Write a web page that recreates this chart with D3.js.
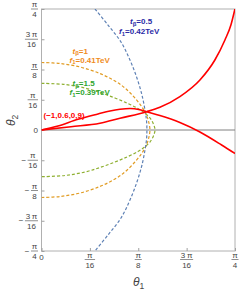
<!DOCTYPE html>
<html>
<head>
<meta charset="utf-8">
<script src="https://cdn.jsdelivr.net/npm/d3@7"></script>
<style>
  html, body { margin: 0; padding: 0; background: #fff; }
  svg { display: block; font-family: "Liberation Sans", Arial, sans-serif; }
</style>
</head>
<body>
<div id="graph"></div>
<script>
      // size of the picture
      var w = 240;
      var h = 292;

      // all angles are stored as theta / pi
      // red solid curves, both start at the origin
      var redFalling = [[0, 0], [0.0213, 0.0083], [0.0471, 0.0221], [0.0730, 0.0331],
                        [0.0885, 0.0393], [0.1014, 0.0428], [0.1143, 0.0444], [0.1272, 0.0417],
                        [0.1358, 0.0378], [0.1530, 0.0300], [0.1788, 0.0155], [0.2047, -0.0041],
                        [0.2327, -0.0310], [0.2499, -0.0486]];
      var redRising = [[0, 0], [0.0381, 0.0068], [0.0755, 0.0138], [0.1014, 0.0242],
                       [0.1358, 0.0378], [0.1530, 0.0470], [0.1788, 0.0690], [0.2047, 0.1033],
                       [0.2240, 0.1446], [0.2370, 0.1860], [0.2447, 0.2169], [0.2499, 0.25]];

      // dashed curves, t_beta = 0.5, 1, 1.5 (traced top to bottom)
      var blueCurve = [[0.0691, 0.25], [0.0859, 0.2169], [0.1027, 0.1818], [0.1143, 0.1446],
                       [0.1233, 0.1074], [0.1298, 0.0723], [0.1337, 0.0413], [0.1356, 0.0207],
                       [0.1362, 0], [0.1356, -0.0207], [0.1337, -0.0413], [0.1298, -0.0723],
                       [0.1233, -0.1074], [0.1143, -0.1446], [0.1027, -0.1818], [0.0859, -0.2169],
                       [0.0691, -0.25]];
      var orangeCurve = [[0, 0.1395], [0.0239, 0.1374], [0.0497, 0.1302], [0.0755, 0.1167],
                         [0.0949, 0.1012], [0.1078, 0.0868], [0.1207, 0.0661], [0.1298, 0.0475],
                         [0.1350, 0.0331], [0.1382, 0.0186], [0.1401, 0], [0.1382, -0.0186],
                         [0.1350, -0.0331], [0.1298, -0.0475], [0.1207, -0.0661], [0.1078, -0.0868],
                         [0.0949, -0.1012], [0.0755, -0.1167], [0.0497, -0.1302], [0.0239, -0.1374],
                         [0, -0.1395]];
      var greenCurve = [[0, 0.0965], [0.0303, 0.0940], [0.0561, 0.0868], [0.0755, 0.0775],
                        [0.0949, 0.0661], [0.1117, 0.0548], [0.1246, 0.0444], [0.1323, 0.0362],
                        [0.1401, 0.0248], [0.1446, 0.0124], [0.1466, 0], [0.1446, -0.0124],
                        [0.1401, -0.0248], [0.1323, -0.0362], [0.1246, -0.0444], [0.1117, -0.0548],
                        [0.0949, -0.0661], [0.0755, -0.0775], [0.0561, -0.0868], [0.0303, -0.0940],
                        [0, -0.0965]];

      // annotation texts
      var tBetaValues = ["0.5", "1", "1.5"];
      var f1Values = ["0.42TeV", "0.41TeV", "0.39TeV"];
      var redLabel = "(\u22121,0.6,0,9)";

      // ticks
      var xTickValues = [0, 0.0625, 0.125, 0.1875, 0.25];
      var xTickLabels = ["0", "\u03c0/16", "\u03c0/8", "3\u2009\u03c0/16", "\u03c0/4"];
      var yTickValues = [-0.25, -0.1875, -0.125, -0.0625, 0, 0.0625, 0.125, 0.1875, 0.25];
      var yTickLabels = ["\u2212\u03c0/4", "\u22123\u2009\u03c0/16", "\u2212\u03c0/8", "\u2212\u03c0/16", "0",
                         "\u03c0/16", "\u03c0/8", "3\u2009\u03c0/16", "\u03c0/4"];

      // plot box (note: "top" is reserved by the window, so use other names)
      var pLeft = 41.5, pRight = 235, pTop = 9, pBottom = 251;

      var xScale = d3.scaleLinear().domain([0, 0.25]).range([pLeft, pRight]);
      var yScale = d3.scaleLinear().domain([-0.25, 0.25]).range([pBottom, pTop]);

      var svg = d3.select("#graph")
                  .append("svg")
                  .attr("width", w)
                  .attr("height", h);

      svg.append("clipPath").attr("id", "plotClip")
         .append("rect")
         .attr("x", pLeft).attr("y", pTop)
         .attr("width", pRight - pLeft).attr("height", pBottom - pTop);

      // frame
      svg.append("rect")
         .attr("x", pLeft).attr("y", pTop)
         .attr("width", pRight - pLeft).attr("height", pBottom - pTop)
         .attr("fill", "none")
         .attr("stroke", "#b0b0b0")
         .attr("stroke-width", 1);

      // theta2 = 0 axis line
      svg.append("line")
         .attr("x1", pLeft).attr("x2", pRight)
         .attr("y1", yScale(0)).attr("y2", yScale(0))
         .attr("stroke", "#808080")
         .attr("stroke-width", 1);

      // tick marks only, labels are drawn by hand as fractions
      svg.append("g")
         .attr("transform", "translate(0," + pBottom + ")")
         .call(d3.axisBottom(xScale).tickValues(xTickValues).tickSize(-3).tickFormat(""));
      svg.append("g")
         .attr("transform", "translate(" + pLeft + ",0)")
         .call(d3.axisLeft(yScale).tickValues(yTickValues).tickSize(-3).tickFormat(""));
      svg.selectAll(".domain").remove();
      svg.selectAll(".tick line").attr("stroke", "#a0a0a0");

      var labelColor = "#444";
      var fs = 8;

      // draws "a/b" stacked like a fraction, with optional leading minus
      function fraction(g, label, cx, cy, anchorRight) {
        if (label.indexOf("/") < 0) {
          g.append("text")
           .attr("x", cx).attr("y", cy + 3)
           .attr("text-anchor", anchorRight ? "end" : "middle")
           .attr("font-size", fs).attr("fill", labelColor)
           .text(label);
          return;
        }
        var sign = "";
        if (label[0] === "\u2212") { sign = "\u2212"; label = label.slice(1); }
        var parts = label.split("/");
        var num = g.append("text").attr("font-size", fs).attr("fill", labelColor)
                   .attr("text-anchor", "middle").text(parts[0]);
        var den = g.append("text").attr("font-size", fs).attr("fill", labelColor)
                   .attr("text-anchor", "middle").text(parts[1]);
        var wd = Math.max(num.node().getComputedTextLength(), den.node().getComputedTextLength()) + 1.5;
        var mid = anchorRight ? cx - wd / 2 : cx;
        num.attr("x", mid).attr("y", cy - 1.8);
        den.attr("x", mid).attr("y", cy + 8);
        g.append("line")
         .attr("x1", mid - wd / 2).attr("x2", mid + wd / 2)
         .attr("y1", cy).attr("y2", cy)
         .attr("stroke", labelColor).attr("stroke-width", 0.6);
        if (sign) {
          g.append("text")
           .attr("x", mid - wd / 2 - 1.5).attr("y", cy + 2.5)
           .attr("text-anchor", "end")
           .attr("font-size", fs).attr("fill", labelColor)
           .text(sign);
        }
      }

      var tickText = svg.append("g");
      xTickLabels.forEach(function(lab, i) {
        if (i === 0) {
          tickText.append("text")
                  .attr("x", xScale(xTickValues[i])).attr("y", 259.5)
                  .attr("text-anchor", "middle")
                  .attr("font-size", fs).attr("fill", labelColor)
                  .text(lab);
        } else {
          fraction(tickText, lab, xScale(xTickValues[i]), 259.5, false);
        }
      });
      yTickLabels.forEach(function(lab, i) {
        fraction(tickText, lab, 38, yScale(yTickValues[i]), true);
      });

      // axis titles
      svg.append("text")
         .attr("x", 133).attr("y", 286)
         .attr("font-size", 12).attr("fill", labelColor)
         .call(function(t) {
           t.append("tspan").attr("font-style", "italic").text("\u03b8");
           t.append("tspan").attr("font-size", 8.5).attr("dy", 2.5).text("1");
         });
      svg.append("text")
         .attr("transform", "translate(15,126) rotate(-90)")
         .attr("font-size", 12).attr("fill", labelColor)
         .call(function(t) {
           t.append("tspan").attr("font-style", "italic").text("\u03b8");
           t.append("tspan").attr("font-size", 8.5).attr("dy", 2.5).text("2");
         });

      // curves: dashed ones turn back on themselves, red ones are functions of theta1
      var loopLine = d3.line()
                   .x(function(d) { return xScale(d[0]); })
                   .y(function(d) { return yScale(d[1]); })
                   .curve(d3.curveCatmullRom.alpha(0.5));
      var redLine = d3.line()
                   .x(function(d) { return xScale(d[0]); })
                   .y(function(d) { return yScale(d[1]); })
                   .curve(d3.curveMonotoneX);

      var plot = svg.append("g").attr("clip-path", "url(#plotClip)");

      var dashed = [
        { data: greenCurve, color: "#8fb032" },
        { data: orangeCurve, color: "#e19c24" },
        { data: blueCurve, color: "#5e81b5" }
      ];
      plot.selectAll("path.dash")
          .data(dashed)
          .enter()
          .append("path")
          .attr("class", "dash")
          .attr("d", function(d) { return loopLine(d.data); })
          .attr("fill", "none")
          .attr("stroke", function(d) { return d.color; })
          .attr("stroke-width", 1.2)
          .attr("stroke-dasharray", "3,2");

      plot.selectAll("path.red")
          .data([redFalling, redRising])
          .enter()
          .append("path")
          .attr("class", "red")
          .attr("d", function(d) { return redLine(d); })
          .attr("fill", "none")
          .attr("stroke", "#ff0000")
          .attr("stroke-width", 1.6);

      // curve annotations
      function paramLabel(x, y, base, sub, rest, color) {
        var t = svg.append("text")
                   .attr("x", x).attr("y", y)
                   .attr("fill", color)
                   .attr("font-size", 8)
                   .attr("font-weight", "bold");
        t.append("tspan").attr("font-style", "italic").text(base);
        t.append("tspan").attr("font-size", 6).attr("dy", 1.8).text(sub);
        t.append("tspan").attr("dy", -1.8).text(rest);
      }

      var annColors = ["#2a2aa6", "#f08c1c", "#2ea52e"];
      var annPos = [[130, 24, 119, 34], [72.5, 53.5, 69.5, 62.5], [72.5, 86, 69.5, 95]];
      tBetaValues.forEach(function(v, i) {
        var p = annPos[i];
        paramLabel(p[0], p[1], "t", "\u03b2", "=" + v, annColors[i]);
        paramLabel(p[2], p[3], "f", "1", "=" + f1Values[i], annColors[i]);
      });

      svg.append("text")
         .attr("x", 43.5).attr("y", 118)
         .attr("fill", "#ff0000")
         .attr("font-size", 8)
         .attr("font-weight", "bold")
         .text(redLabel);
</script>
</body>
</html>
